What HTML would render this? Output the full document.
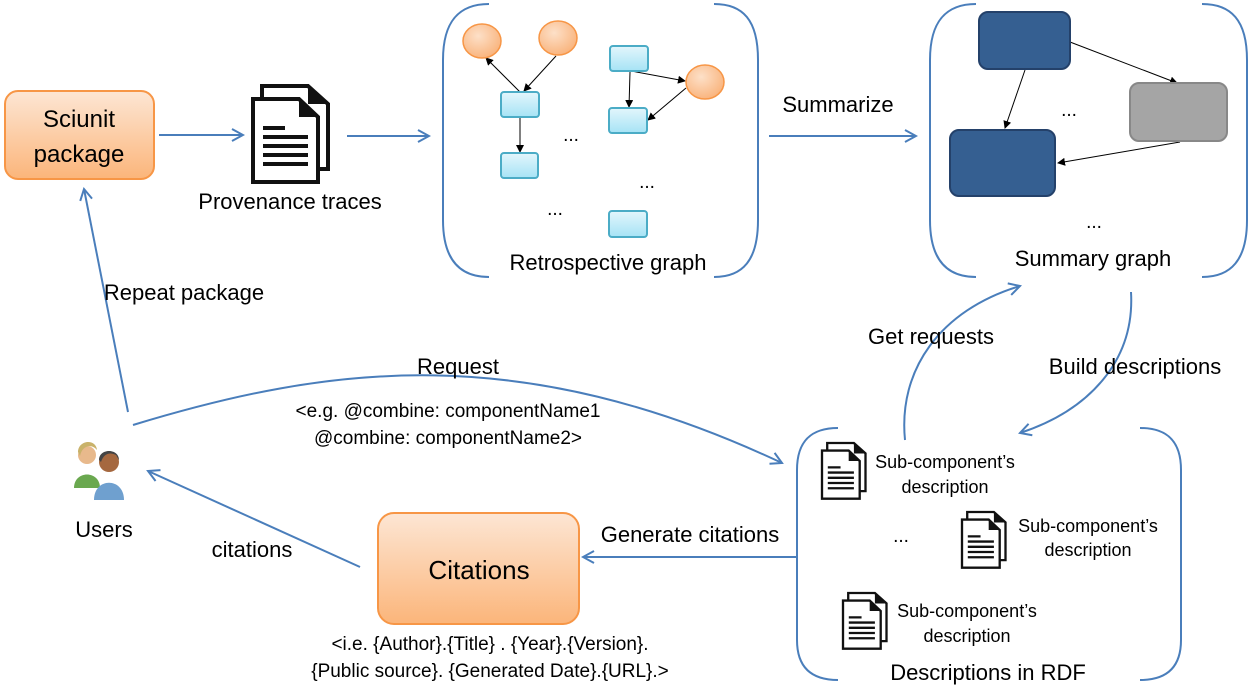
<!DOCTYPE html>
<html><head><meta charset="utf-8"><style>
body{margin:0;background:#fff}
svg{display:block}
text{font-family:"Liberation Sans",sans-serif;fill:#000}
</style></head><body>
<svg width="1250" height="687" viewBox="0 0 1250 687" xmlns="http://www.w3.org/2000/svg">
<defs>
<linearGradient id="og" x1="0" y1="0" x2="0" y2="1"><stop offset="0" stop-color="#fde6d4"/><stop offset="1" stop-color="#fbb57a"/></linearGradient>
<linearGradient id="bg" x1="0" y1="0" x2="0" y2="1"><stop offset="0" stop-color="#e3f6fc"/><stop offset="1" stop-color="#a6e3f5"/></linearGradient>
<radialGradient id="cg" cx="0.4" cy="0.35" r="0.7"><stop offset="0" stop-color="#fde0c8"/><stop offset="1" stop-color="#f9b27a"/></radialGradient>
<marker id="oa" markerWidth="14" markerHeight="14" refX="12" refY="7" orient="auto" markerUnits="userSpaceOnUse"><path d="M1,1 L12,7 L1,13" fill="none" stroke="#4a7ebb" stroke-width="2"/></marker>
<marker id="ba" markerWidth="8" markerHeight="8" refX="7" refY="4" orient="auto" markerUnits="userSpaceOnUse"><path d="M0,0 L8,4 L0,8 z" fill="#000"/></marker>
<g id="doc">
<path d="M9,0 H55 L75,18 V83 H9 Z" fill="#fff" stroke="#111" stroke-width="4"/>
<path d="M55,0 V18 H75" fill="#111"/>
<path d="M0,13 H46 L65,31 V96 H0 Z" fill="#fff" stroke="#111" stroke-width="4"/>
<path d="M46,13 V31 H65 Z" fill="#111"/>
<path d="M10,42 H32 M10,51 H55 M10,60 H55 M10,69 H55 M10,78 H55" stroke="#111" stroke-width="4"/>
</g>
</defs>
<g fill="none" stroke="#4a7ebb" stroke-width="2">
<path d="M489,4 C460,4 443,20 443,60 V220 C443,260 460,277 489,277"/>
<path d="M714,4 C743,4 758,20 758,60 V220 C758,260 743,277 714,277"/>
<path d="M976,4 C947,4 930,20 930,60 V220 C930,260 947,277 976,277"/>
<path d="M1202,4 C1231,4 1247,20 1247,60 V220 C1247,260 1231,277 1202,277"/>
<path d="M838,428 C812,428 797,440 797,470 V640 C797,668 812,680 838,680"/>
<path d="M1140,428 C1166,428 1181,440 1181,470 V640 C1181,668 1166,680 1140,680"/>
<path d="M159,135 H243" marker-end="url(#oa)"/>
<path d="M347,136 H429" marker-end="url(#oa)"/>
<path d="M769,136 H916" marker-end="url(#oa)"/>
<path d="M128,412 L84,189" marker-end="url(#oa)"/>
<path d="M133,425 C330,365 520,340 782,463" marker-end="url(#oa)"/>
<path d="M360,567 L148,471" marker-end="url(#oa)"/>
<path d="M796,557 H583" marker-end="url(#oa)"/>
<path d="M905,440 C898,370 940,310 1020,286" marker-end="url(#oa)"/>
<path d="M1131,292 C1135,360 1090,410 1020,433" marker-end="url(#oa)"/>
</g>
<rect x="5" y="91" width="149" height="88" rx="13" fill="url(#og)" stroke="#f79646" stroke-width="2"/>
<text x="79" y="127" font-size="24" text-anchor="middle">Sciunit</text>
<text x="79" y="162" font-size="24" text-anchor="middle">package</text>
<use href="#doc" x="253" y="86"/>
<text x="290" y="209" font-size="22" text-anchor="middle">Provenance traces</text>
<g stroke="#000" stroke-width="1" fill="none">
<path d="M520,92 L486,58" marker-end="url(#ba)"/>
<path d="M556,56 L524,91" marker-end="url(#ba)"/>
<path d="M520,117 L520,152" marker-end="url(#ba)"/>
<path d="M630,72 L629,107" marker-end="url(#ba)"/>
<path d="M631,71 L685,81" marker-end="url(#ba)"/>
<path d="M686,88 L648,120" marker-end="url(#ba)"/>
</g>
<g stroke="#f79646" stroke-width="1.5" fill="url(#cg)">
<ellipse cx="482" cy="41" rx="19" ry="17"/>
<ellipse cx="558" cy="38" rx="19" ry="17"/>
<ellipse cx="705" cy="82" rx="19" ry="17"/>
</g>
<g stroke="#4bacc6" stroke-width="2" fill="url(#bg)">
<rect x="501" y="92" width="38" height="25" rx="3"/>
<rect x="501" y="153" width="37" height="25" rx="3"/>
<rect x="610" y="46" width="38" height="25" rx="3"/>
<rect x="609" y="108" width="38" height="25" rx="3"/>
<rect x="609" y="211" width="38" height="26" rx="3"/>
</g>
<text x="571" y="141" font-size="19" text-anchor="middle">...</text>
<text x="647" y="188" font-size="19" text-anchor="middle">...</text>
<text x="555" y="215" font-size="19" text-anchor="middle">...</text>
<text x="608" y="270" font-size="22" text-anchor="middle">Retrospective graph</text>
<text x="838" y="112" font-size="22" text-anchor="middle">Summarize</text>
<g stroke="#000" stroke-width="1" fill="none">
<path d="M1070,42 L1177,83" marker-end="url(#ba)"/>
<path d="M1025,70 L1005,128" marker-end="url(#ba)"/>
<path d="M1180,142 L1058,163" marker-end="url(#ba)"/>
</g>
<rect x="979" y="12" width="91" height="57" rx="9" fill="#355f91" stroke="#24416a" stroke-width="2"/>
<rect x="950" y="130" width="105" height="66" rx="9" fill="#355f91" stroke="#24416a" stroke-width="2"/>
<rect x="1130" y="83" width="97" height="58" rx="9" fill="#a5a5a5" stroke="#888" stroke-width="2"/>
<text x="1069" y="116" font-size="19" text-anchor="middle">...</text>
<text x="1094" y="228" font-size="19" text-anchor="middle">...</text>
<text x="1093" y="266" font-size="22" text-anchor="middle">Summary graph</text>
<text x="931" y="344" font-size="22" text-anchor="middle">Get requests</text>
<text x="1135" y="374" font-size="22" text-anchor="middle">Build descriptions</text>
<text x="184" y="300" font-size="22" text-anchor="middle">Repeat package</text>
<text x="458" y="374" font-size="22" text-anchor="middle">Request</text>
<text x="448" y="417" font-size="19" text-anchor="middle">&lt;e.g. @combine: componentName1</text>
<text x="448" y="444" font-size="19" text-anchor="middle">@combine: componentName2&gt;</text>
<g>
<circle cx="87" cy="455" r="9" fill="#e8b98c"/>
<path d="M78,452 C78,440 96,438 97,450 L95,448 C90,444 82,446 80,456 Z" fill="#c9b26a"/>
<path d="M74,488 C74,470 100,470 100,488 Z" fill="#6aa84f"/>
<circle cx="109" cy="462" r="10" fill="#a5683f"/>
<path d="M99,460 C99,448 119,448 119,460 L116,455 C110,452 104,453 101,462 Z" fill="#444"/>
<path d="M94,500 C94,477 124,477 124,500 Z" fill="#6fa0cf"/>
</g>
<text x="104" y="537" font-size="22" text-anchor="middle">Users</text>
<text x="252" y="557" font-size="22" text-anchor="middle">citations</text>
<rect x="378" y="513" width="201" height="111" rx="16" fill="url(#og)" stroke="#f79646" stroke-width="2"/>
<text x="479" y="579" font-size="26" text-anchor="middle">Citations</text>
<text x="690" y="542" font-size="22" text-anchor="middle">Generate citations</text>
<text x="490" y="650" font-size="19" text-anchor="middle">&lt;i.e. {Author}.{Title} . {Year}.{Version}.</text>
<text x="490" y="677" font-size="19" text-anchor="middle">{Public source}. {Generated Date}.{URL}.&gt;</text>
<use href="#doc" transform="translate(822,443) scale(0.58)"/>
<use href="#doc" transform="translate(962,512) scale(0.58)"/>
<use href="#doc" transform="translate(843,593) scale(0.58)"/>
<text x="945" y="468" font-size="18" text-anchor="middle">Sub-component’s</text>
<text x="945" y="493" font-size="18" text-anchor="middle">description</text>
<text x="1088" y="532" font-size="18" text-anchor="middle">Sub-component’s</text>
<text x="1088" y="556" font-size="18" text-anchor="middle">description</text>
<text x="967" y="617" font-size="18" text-anchor="middle">Sub-component’s</text>
<text x="967" y="642" font-size="18" text-anchor="middle">description</text>
<text x="901" y="542" font-size="19" text-anchor="middle">...</text>
<text x="988" y="680" font-size="22" text-anchor="middle">Descriptions in RDF</text>
</svg>
</body></html>
